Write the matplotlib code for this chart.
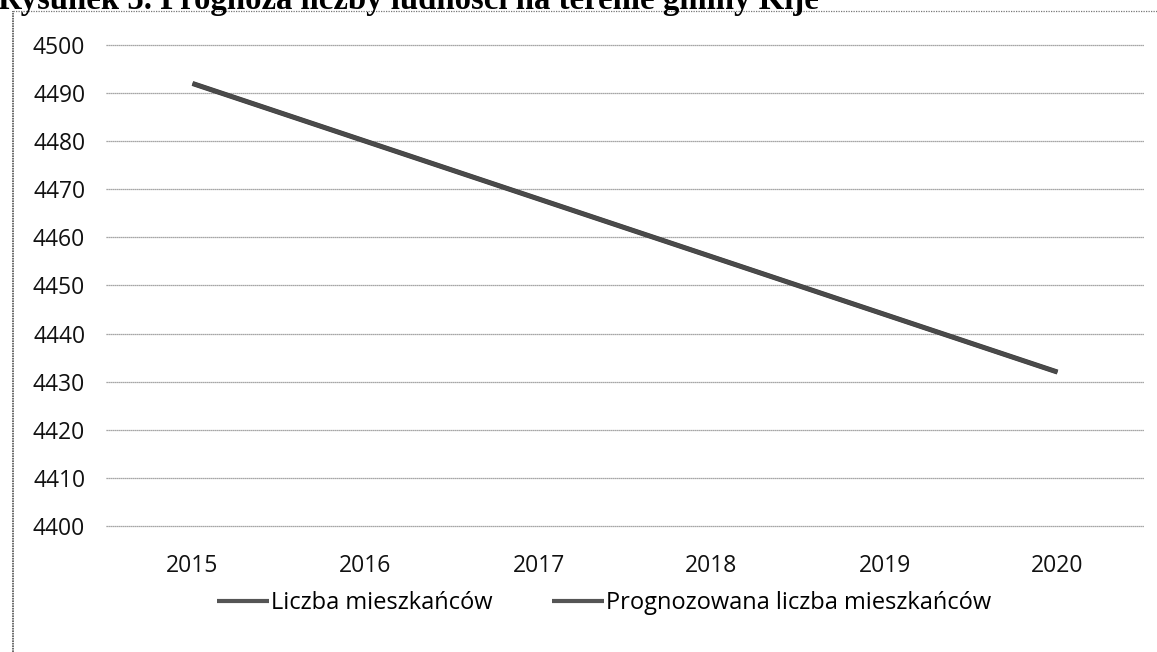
import matplotlib
matplotlib.use("Agg")
import matplotlib.pyplot as plt
from matplotlib.lines import Line2D

# dane
lata = ["2015", "2016", "2017", "2018", "2019", "2020"]
liczba_mieszkancow = [4492, 4480, 4468, 4456, 4444, 4432]
prognoza = [4492, 4480, 4468, 4456, 4444, 4432]
y_ticks = [4400, 4410, 4420, 4430, 4440, 4450, 4460, 4470, 4480, 4490, 4500]

tytul = "Rysunek 5. Prognoza liczby ludności na terenie gminy Kije"

W, H = 1157, 652
fig = plt.figure(figsize=(W / 100, H / 100), dpi=100)
fig.patch.set_facecolor("white")

ax = fig.add_axes([106 / W, 1 - 526 / H, (1144 - 106) / W, (526 - 45) / H])
x = list(range(len(lata)))

ax.plot(x, liczba_mieszkancow, color="#3a3a3a", lw=3.6, solid_capstyle="butt",
        label="Liczba mieszkańców", zorder=3)
ax.plot(x, prognoza, color="#4a4a4a", lw=3.0, solid_capstyle="butt",
        label="Prognozowana liczba mieszkańców", zorder=4)

ax.set_xlim(-0.5, len(lata) - 0.5)
ax.set_ylim(4400, 4500)
ax.set_yticks(y_ticks)
ax.set_xticks(x)
ax.set_xticklabels(lata)
ax.yaxis.grid(True, color="#8a8a8a", lw=0.9, ls=(0, (1, 0.6)))
for gl in ax.get_ygridlines():
    gl.set_clip_on(False)
ax.set_axisbelow(True)
for s in ax.spines.values():
    s.set_visible(False)
ax.tick_params(axis="both", length=0, labelsize=16.5, colors="#111111")
ax.tick_params(axis="y", pad=15)
ax.tick_params(axis="x", pad=20)
for lab in ax.get_xticklabels() + ax.get_yticklabels():
    lab.set_family("Open Sans")

leg = fig.legend(loc="center", bbox_to_anchor=(604 / W, 1 - 603 / H), ncol=2,
                 frameon=False, handlelength=2.2, handletextpad=0.1,
                 columnspacing=2.5, prop={"family": "Open Sans", "size": 17})
for h in leg.get_lines():
    h.set_linewidth(3)
    h.set_color("#555555")

# ramka (skan)
fig.add_artist(Line2D([13 / W, 13 / W], [0, 1 - 11 / H], transform=fig.transFigure,
                      color="#555555", lw=1.2, ls=(0, (1, 0.5))))
fig.add_artist(Line2D([13 / W, 1], [1 - 11 / H, 1 - 11 / H], transform=fig.transFigure,
                      color="#777777", lw=0.9, ls=(0, (1, 1))))

# tytuł ucięty u góry
fig.text(-0.002, 1 - 9 / H, tytul, family="Liberation Serif", weight="bold",
         fontsize=23.6, va="baseline", ha="left", color="black")

fig.savefig("out.png", dpi=100)
